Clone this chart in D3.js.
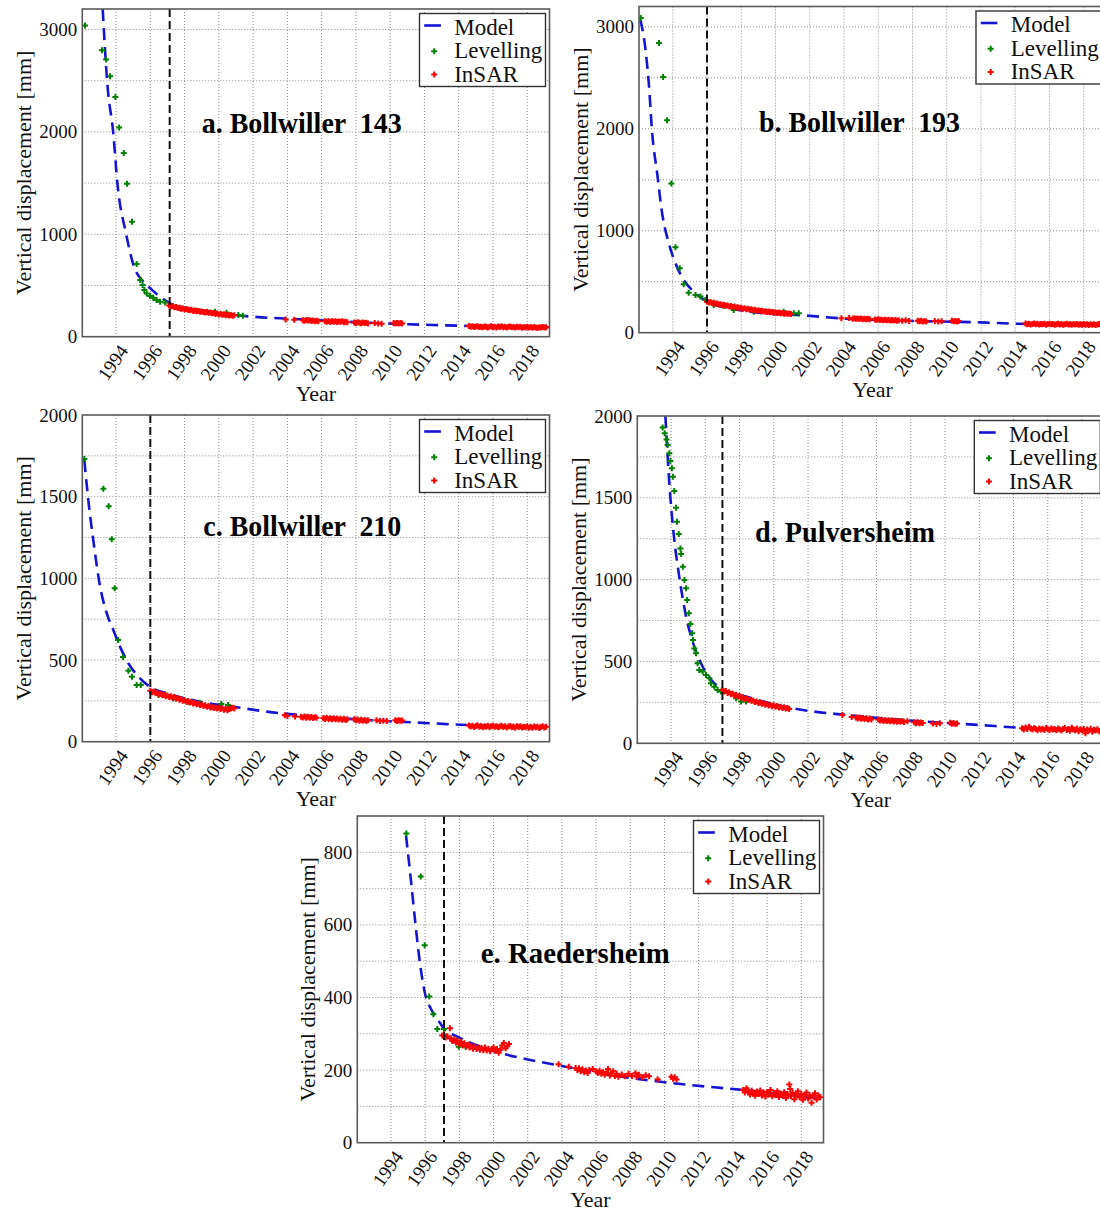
<!DOCTYPE html>
<html><head><meta charset="utf-8">
<script src="https://cdn.jsdelivr.net/npm/d3@7"></script>
<style>body{margin:0;background:#fff}svg{display:block}text{font-family:"Liberation Serif","Times New Roman",serif}</style>
</head><body><svg id="chart" width="1100" height="1211"></svg>
<script>
// ---------- tick labels ----------
const xTickYears = [1994,1996,1998,2000,2002,2004,2006,2008,2010,2012,2014,2016,2018];
const xDomain = [1992.03, 2019.3];
const yTicksAB = [0,1000,2000,3000];
const yTicksCD = [0,500,1000,1500,2000];
const yTicksE = [0,200,400,600,800];
const legendLabels = ["Model","Levelling","InSAR"];
const titles = ["a. Bollwiller  143","b. Bollwiller  193","c. Bollwiller  210","d. Pulversheim","e. Raedersheim"];
const vlineYears = [1997.13, 1996.0, 1996.0, 1997.0, 1997.1];

// ---------- model curves [year, mm] ----------
const modelA = [[1993.22,3200],[1993.49,2472],[1993.84,1984],[1994.08,1497],[1994.58,1009],[1995.05,683],[1995.6,537],[1996.07,462],[1996.57,390],[1997.15,326],[1998.9,260],[2000.85,212],[2002.0,195],[2004.75,170],[2008.65,137],[2012.5,114],[2014.9,104],[2019.25,92]];
const modelB = [[1992.11,3071],[1992.41,2777],[1992.6,2449],[1992.8,1958],[1993.09,1565],[1993.38,1172],[1993.77,878],[1994.16,681],[1994.64,517],[1995.23,403],[1996.0,305],[1997.37,239],[1999.31,190],[2001.26,174],[2003.79,141],[2008.07,115],[2011.97,101],[2014.11,88],[2019.2,75]];
const modelC = [[1992.15,1724],[1992.38,1480],[1992.67,1235],[1993.07,949],[1993.46,786],[1993.84,684],[1994.23,582],[1994.72,480],[1995.4,388],[1996.03,333],[1996.96,296],[1998.9,245],[2000.85,214],[2002.8,184],[2004.74,163],[2008.64,133],[2012.53,112],[2014.48,102],[2019.2,88]];
const modelD = [[1993.67,2000],[1993.9,1589],[1994.15,1283],[1994.48,1018],[1994.88,774],[1995.36,591],[1995.85,468],[1996.43,377],[1997.01,330],[1998.38,285],[2001.1,214],[2004.22,173],[2008.11,138],[2012.0,112],[2014.53,94],[2019.2,81]];
const modelE = [[1994.88,846],[1995.15,731],[1995.41,612],[1995.7,493],[1995.99,411],[1996.38,365],[1996.77,337],[1997.1,314],[1997.85,293],[1999.8,255],[2001.75,232],[2003.7,214],[2007.6,181],[2011.52,159],[2014.64,145],[2019.2,122]];

// ---------- levelling [year, mm] ----------
const levA = [[1992.19,3040],[1993.18,2797],[1993.42,2706],[1993.65,2543],[1993.96,2341],[1994.18,2043],[1994.45,1795],[1994.64,1493],[1994.93,1122],[1995.2,709],[1995.41,553],[1995.55,504],[1995.65,456],[1995.79,423],[1995.98,397],[1996.17,380],[1996.37,358],[1996.57,341],[1996.86,335],[1997.74,277],[1998.7,254],[1999.3,244],[1999.77,244],[2000.45,234],[2001.14,212],[2001.4,205]];
const levB = [[1992.13,3088],[1993.2,2842],[1993.44,2508],[1993.67,2083],[1993.92,1464],[1994.16,838],[1994.41,632],[1994.64,475],[1994.93,393],[1995.33,370],[1995.62,354],[1995.91,321],[1996.39,272],[1996.98,262],[1997.56,223],[1998.73,206],[1999.9,196],[2000.48,206],[2001.07,190],[2001.36,190]];
const levC = [[1992.15,1731],[1993.26,1549],[1993.57,1441],[1993.75,1239],[1993.92,939],[1994.12,622],[1994.41,518],[1994.72,435],[1994.93,398],[1995.2,347],[1995.44,347],[1996.47,286],[1997.35,265],[1998.2,245],[1998.88,239],[2000.15,231],[2000.54,224]];
const levD = [[1993.51,1929],[1993.63,1894],[1993.74,1857],[1993.8,1823],[1993.9,1772],[1993.96,1725],[1994.05,1680],[1994.11,1629],[1994.19,1542],[1994.29,1440],[1994.35,1354],[1994.45,1279],[1994.55,1191],[1994.59,1157],[1994.69,1079],[1994.78,998],[1994.88,947],[1994.94,876],[1995.04,794],[1995.13,729],[1995.23,672],[1995.28,631],[1995.36,580],[1995.46,550],[1995.55,489],[1995.65,448],[1995.85,438],[1996.04,418],[1996.24,397],[1996.33,367],[1996.53,346],[1996.72,326],[1996.92,316],[1997.8,275],[1998.09,255],[1998.38,255]];
const levE = [[1994.9,852],[1995.74,733],[1995.97,544],[1996.24,403],[1996.48,354],[1996.71,313],[1997.1,313],[1997.58,282],[1997.97,264],[1998.36,264]];

// ---------- InSAR [year, mm] ----------
const insarA = [[1997.1,305],[1997.2,296],[1997.3,300],[1997.4,288],[1997.5,291],[1997.6,280],[1997.7,283],[1997.8,272],[1997.9,276],[1998.0,265],[1998.1,270],[1998.2,262],[1998.3,258],[1998.4,262],[1998.5,252],[1998.6,256],[1998.7,248],[1998.8,250],[1998.9,244],[1999.0,247],[1999.1,240],[1999.2,236],[1999.3,241],[1999.4,233],[1999.5,236],[1999.6,228],[1999.7,231],[1999.8,222],[1999.9,226],[2000.0,218],[2000.1,224],[2000.2,214],[2000.3,219],[2000.4,210],[2000.5,215],[2000.6,208],[2000.7,212],[2000.8,205],[2000.9,209],
[2003.9,168],[2004.4,165],[2004.9,160],[2005.0,155],[2005.1,162],[2005.2,157],[2005.3,160],[2005.4,153],[2005.5,158],[2005.6,151],[2005.7,156],[2005.8,152],[2006.2,150],[2006.3,146],[2006.4,153],[2006.5,144],[2006.6,150],[2006.7,147],[2006.8,152],[2006.9,143],[2007.0,148],[2007.1,145],[2007.2,150],[2007.3,141],[2007.4,146],[2007.5,140],[2007.9,139],[2008.0,134],[2008.1,141],[2008.2,136],[2008.3,131],[2008.4,138],[2008.5,133],[2008.6,136],[2008.7,130],[2009.1,133],[2009.3,128],[2009.5,126],[2010.2,133],[2010.3,128],[2010.4,135],[2010.5,130],[2010.6,134],[2010.7,129],
[2014.6,104],[2014.7,97],[2014.8,101],[2014.9,94],[2015.0,99],[2015.1,103],[2015.2,95],[2015.3,98],[2015.4,92],[2015.5,100],[2015.6,96],[2015.7,90],[2015.8,97],[2015.9,101],[2016.0,94],[2016.1,98],[2016.2,91],[2016.3,99],[2016.4,95],[2016.5,102],[2016.6,93],[2016.7,97],[2016.8,90],[2016.9,96],[2017.0,99],[2017.1,92],[2017.2,95],[2017.3,89],[2017.4,98],[2017.5,93],[2017.6,96],[2017.7,88],[2017.8,94],[2017.9,91],[2018.0,97],[2018.1,90],[2018.2,94],[2018.3,87],[2018.4,95],[2018.5,91],[2018.6,86],[2018.7,93],[2018.8,89],[2018.9,95],[2019.0,90],[2019.1,93]];
const insarB = [[1996.0,305],[1996.1,296],[1996.2,300],[1996.3,290],[1996.4,293],[1996.5,283],[1996.6,287],[1996.7,276],[1996.8,280],[1996.9,270],[1997.0,274],[1997.1,265],[1997.2,268],[1997.3,258],[1997.4,262],[1997.5,252],[1997.6,256],[1997.7,246],[1997.8,249],[1997.9,240],[1998.0,244],[1998.1,236],[1998.2,239],[1998.3,230],[1998.4,234],[1998.5,226],[1998.6,229],[1998.7,220],[1998.8,224],[1998.9,216],[1999.0,220],[1999.1,212],[1999.2,215],[1999.3,208],[1999.4,211],[1999.5,204],[1999.6,207],[1999.7,200],[1999.8,204],[1999.9,197],[2000.0,201],[2000.1,193],[2000.2,197],[2000.3,190],[2000.4,194],[2000.5,187],[2000.6,191],[2000.7,185],[2000.8,189],[2000.9,184],
[2003.85,141],[2004.3,144],[2004.5,138],[2004.6,142],[2004.7,136],[2004.8,140],[2004.9,134],[2005.0,139],[2005.1,133],[2005.2,137],[2005.3,131],[2005.4,136],[2005.5,132],[2005.8,129],[2005.9,125],[2006.0,131],[2006.1,124],[2006.2,128],[2006.3,122],[2006.4,127],[2006.5,121],[2006.6,126],[2006.7,120],[2006.8,125],[2006.9,119],[2007.0,124],[2007.1,118],[2007.2,123],[2007.4,117],[2007.6,121],[2007.8,116],[2008.3,118],[2008.4,112],[2008.5,117],[2008.6,111],[2008.7,115],[2008.8,110],[2009.3,114],[2009.5,110],[2009.7,112],[2010.3,117],[2010.4,112],[2010.5,116],[2010.6,111],[2010.7,114],
[2014.6,90],[2014.7,84],[2014.8,88],[2014.9,81],[2015.0,86],[2015.1,90],[2015.2,83],[2015.3,87],[2015.4,80],[2015.5,86],[2015.6,82],[2015.7,88],[2015.8,79],[2015.9,85],[2016.0,89],[2016.1,82],[2016.2,86],[2016.3,79],[2016.4,84],[2016.5,88],[2016.6,81],[2016.7,85],[2016.8,78],[2016.9,84],[2017.0,87],[2017.1,80],[2017.2,84],[2017.3,77],[2017.4,85],[2017.5,81],[2017.6,86],[2017.7,78],[2017.8,83],[2017.9,79],[2018.0,85],[2018.1,77],[2018.2,82],[2018.3,76],[2018.4,84],[2018.5,79],[2018.6,83],[2018.7,76],[2018.8,81],[2018.9,85],[2019.0,78],[2019.1,82]];
const insarC = [[1996.0,312],[1996.1,303],[1996.2,307],[1996.3,296],[1996.4,300],[1996.5,290],[1996.6,294],[1996.7,284],[1996.8,288],[1996.9,279],[1997.0,283],[1997.1,274],[1997.2,278],[1997.3,269],[1997.4,273],[1997.5,263],[1997.6,267],[1997.7,257],[1997.8,261],[1997.9,251],[1998.0,255],[1998.1,245],[1998.2,249],[1998.3,240],[1998.4,244],[1998.5,234],[1998.6,238],[1998.7,229],[1998.8,233],[1998.9,224],[1999.0,228],[1999.1,219],[1999.2,223],[1999.3,214],[1999.4,218],[1999.5,210],[1999.6,214],[1999.7,206],[1999.8,210],[1999.9,203],[2000.0,208],[2000.1,200],[2000.2,205],[2000.3,196],[2000.4,201],[2000.5,192],[2000.6,198],[2000.7,203],[2000.8,208],[2000.9,204],
[2003.85,162],[2004.0,158],[2004.45,155],[2004.8,153],[2004.9,148],[2005.0,154],[2005.1,147],[2005.2,152],[2005.3,146],[2005.4,151],[2005.5,145],[2005.6,150],[2005.7,146],[2006.1,145],[2006.2,139],[2006.3,146],[2006.4,138],[2006.5,144],[2006.6,137],[2006.7,143],[2006.8,138],[2006.9,142],[2007.0,136],[2007.1,141],[2007.2,135],[2007.3,140],[2007.4,133],[2007.5,138],[2007.9,137],[2008.0,131],[2008.1,136],[2008.2,129],[2008.3,134],[2008.4,128],[2008.5,133],[2008.6,127],[2008.7,132],[2009.2,131],[2009.4,127],[2009.6,129],[2009.8,126],[2010.3,131],[2010.4,127],[2010.5,132],[2010.6,128],[2010.7,130],
[2014.6,99],[2014.7,93],[2014.8,97],[2014.9,90],[2015.0,96],[2015.1,100],[2015.2,92],[2015.3,96],[2015.4,89],[2015.5,95],[2015.6,91],[2015.7,97],[2015.8,88],[2015.9,94],[2016.0,98],[2016.1,91],[2016.2,95],[2016.3,88],[2016.4,93],[2016.5,97],[2016.6,90],[2016.7,94],[2016.8,87],[2016.9,93],[2017.0,96],[2017.1,89],[2017.2,93],[2017.3,86],[2017.4,94],[2017.5,90],[2017.6,95],[2017.7,87],[2017.8,92],[2017.9,88],[2018.0,94],[2018.1,86],[2018.2,91],[2018.3,85],[2018.4,93],[2018.5,88],[2018.6,92],[2018.7,84],[2018.8,90],[2018.9,94],[2019.0,87],[2019.1,91]];
const insarD = [[1997.0,325],[1997.1,316],[1997.2,320],[1997.3,308],[1997.4,312],[1997.5,300],[1997.6,304],[1997.7,292],[1997.8,296],[1997.9,285],[1998.0,289],[1998.1,278],[1998.2,282],[1998.3,271],[1998.4,275],[1998.5,264],[1998.6,268],[1998.7,258],[1998.8,262],[1998.9,252],[1999.0,256],[1999.1,246],[1999.2,250],[1999.3,241],[1999.4,245],[1999.5,236],[1999.6,240],[1999.7,231],[1999.8,235],[1999.9,227],[2000.0,232],[2000.1,223],[2000.2,228],[2000.3,219],[2000.4,224],[2000.5,215],[2000.6,220],[2000.7,212],[2000.8,216],[2000.9,209],
[2004.0,173],[2004.55,160],[2004.8,158],[2004.9,152],[2005.0,157],[2005.1,150],[2005.2,155],[2005.3,148],[2005.4,153],[2005.5,146],[2005.6,151],[2005.7,145],[2006.1,146],[2006.2,139],[2006.3,144],[2006.4,137],[2006.5,143],[2006.6,136],[2006.7,141],[2006.8,134],[2006.9,140],[2007.0,133],[2007.1,138],[2007.2,132],[2007.3,137],[2007.4,131],[2007.5,136],[2007.6,130],[2007.8,134],[2008.2,128],[2008.3,123],[2008.4,129],[2008.5,122],[2008.6,127],[2008.7,124],[2009.3,121],[2009.5,118],[2009.7,122],[2010.3,125],[2010.4,119],[2010.5,124],[2010.6,118],[2010.7,121],
[2014.5,92],[2014.6,85],[2014.7,97],[2014.8,88],[2014.9,101],[2015.0,90],[2015.1,84],[2015.2,93],[2015.3,87],[2015.4,80],[2015.5,91],[2015.6,85],[2015.7,89],[2015.8,82],[2015.9,94],[2016.0,86],[2016.1,80],[2016.2,90],[2016.3,84],[2016.4,88],[2016.5,79],[2016.6,91],[2016.7,85],[2016.8,78],[2016.9,87],[2017.0,93],[2017.1,81],[2017.2,88],[2017.3,76],[2017.4,95],[2017.5,84],[2017.6,79],[2017.7,90],[2017.8,73],[2017.9,86],[2018.0,80],[2018.1,88],[2018.2,62],[2018.3,84],[2018.4,76],[2018.5,89],[2018.6,70],[2018.7,83],[2018.8,78],[2018.9,86],[2019.0,74],[2019.1,82]];
const insarE = [[1997.0,295],[1997.1,298],[1997.2,290],[1997.3,293],[1997.45,315],[1997.5,287],[1997.6,280],[1997.7,285],[1997.8,276],[1997.9,281],[1998.0,272],[1998.1,278],[1998.2,268],[1998.3,274],[1998.4,265],[1998.5,270],[1998.6,262],[1998.7,267],[1998.8,259],[1998.9,264],[1999.0,258],[1999.1,263],[1999.2,256],[1999.3,261],[1999.4,255],[1999.5,262],[1999.6,254],[1999.7,259],[1999.8,252],[1999.9,258],[2000.0,262],[2000.1,253],[2000.2,258],[2000.3,248],[2000.4,256],[2000.5,268],[2000.6,275],[2000.7,260],[2000.8,266],[2000.9,272],
[2003.8,216],[2004.4,209],[2004.8,206],[2004.9,200],[2005.0,205],[2005.1,197],[2005.2,202],[2005.3,194],[2005.4,199],[2005.5,192],[2005.6,200],[2005.8,203],[2006.0,196],[2006.1,192],[2006.2,198],[2006.3,190],[2006.4,195],[2006.5,187],[2006.6,193],[2006.7,203],[2006.8,185],[2006.9,191],[2007.0,197],[2007.1,184],[2007.2,190],[2007.3,182],[2007.5,188],[2007.7,183],[2007.9,190],[2008.1,184],[2008.3,191],[2008.4,182],[2008.5,187],[2008.7,180],[2008.9,186],[2009.1,183],[2009.6,175],[2010.4,182],[2010.5,176],[2010.6,180],[2010.7,174],
[2014.6,145],[2014.7,138],[2014.8,150],[2014.9,140],[2015.0,133],[2015.1,143],[2015.2,136],[2015.3,129],[2015.4,141],[2015.5,134],[2015.6,144],[2015.7,130],[2015.8,138],[2015.9,127],[2016.0,140],[2016.1,133],[2016.2,145],[2016.3,128],[2016.4,137],[2016.5,131],[2016.6,142],[2016.7,126],[2016.8,135],[2016.9,129],[2017.0,139],[2017.1,123],[2017.2,134],[2017.3,160],[2017.35,148],[2017.4,128],[2017.5,137],[2017.6,120],[2017.7,132],[2017.8,142],[2017.9,125],[2018.0,134],[2018.1,118],[2018.2,129],[2018.3,138],[2018.4,122],[2018.5,131],[2018.6,110],[2018.7,127],[2018.8,136],[2018.9,119],[2019.0,130],[2019.1,125]];

// ---------- layout ----------
const panels = [
  {box:[82.3,9,549.5,336.7], ymax:3200, ticks:yTicksAB, grid:500, model:modelA, lev:levA, insar:insarA, title:titles[0], vline:vlineYears[0], tdx:119.4, tdy:124.3, tlen:200},
  {box:[639,6.5,1106,332.7], ymax:3200, ticks:yTicksAB, grid:500, model:modelB, lev:levB, insar:insarB, title:titles[1], vline:vlineYears[1], tdx:120, tdy:125.5, tlen:201},
  {box:[82.3,415,549.5,741.7], ymax:2000, ticks:yTicksCD, grid:250, model:modelC, lev:levC, insar:insarC, title:titles[2], vline:vlineYears[2], tdx:121, tdy:121, tlen:198},
  {box:[637.3,416,1104.3,743.3], ymax:2000, ticks:yTicksCD, grid:250, model:modelD, lev:levD, insar:insarD, title:titles[3], vline:vlineYears[3], tdx:117.7, tdy:125.7, tlen:180},
  {box:[357.3,816,823.5,1142.7], ymax:900, ticks:yTicksE, grid:100, model:modelE, lev:levE, insar:insarE, title:titles[4], vline:vlineYears[4], tdx:123.4, tdy:146.7, tlen:189}
];

const svg = d3.select("#chart");
svg.append("rect").attr("width",1100).attr("height",1211).attr("fill","#fff");
const BLUE="#1414d2", GREEN="#008000", RED="#ff0000";
const sym = d3.symbol().type(d3.symbolCross).size(20);

panels.forEach((p,i)=>{
  const [L,T,R,B] = p.box;
  const x = d3.scaleLinear().domain(xDomain).range([L,R]);
  const y = d3.scaleLinear().domain([0,p.ymax]).range([B,T]);
  const g = svg.append("g");
  const cid = "clip"+i;
  svg.append("clipPath").attr("id",cid).append("rect").attr("x",L).attr("y",T).attr("width",R-L).attr("height",B-T);

  // grid
  const gridG = g.append("g").attr("stroke","#8a8a8a").attr("stroke-width",1).attr("stroke-dasharray","1,2");
  xTickYears.forEach(t=>gridG.append("line").attr("x1",x(t)).attr("x2",x(t)).attr("y1",T).attr("y2",B));
  d3.range(p.grid, p.ymax, p.grid).forEach(v=>gridG.append("line").attr("x1",L).attr("x2",R).attr("y1",y(v)).attr("y2",y(v)));

  // y tick labels via axis
  const yAxis = d3.axisLeft(y).tickValues(p.ticks).tickSize(0).tickPadding(5).tickFormat(d3.format("d"));
  const ya = g.append("g").attr("transform",`translate(${L},0)`).call(yAxis);
  ya.select(".domain").remove();
  ya.selectAll("text").attr("font-size",19).attr("fill","#111").attr("font-family","Liberation Serif");

  // x tick labels via axis
  const xAxis = d3.axisBottom(x).tickValues(xTickYears).tickSize(0).tickFormat(d3.format("d"));
  const xa = g.append("g").attr("transform",`translate(0,${B})`).call(xAxis);
  xa.select(".domain").remove();
  xa.selectAll("text").attr("font-size",19).attr("fill","#111").attr("font-family","Liberation Serif")
    .attr("text-anchor","end").attr("dy",null).attr("y",null)
    .attr("transform","translate(12.5,14) rotate(-55)");

  // axis titles
  const maxDigits = d3.max(p.ticks, t=>String(t).length);
  g.append("text").attr("transform",`translate(${L-5-maxDigits*9.5-8.5},${(T+B)/2}) rotate(-90)`)
    .attr("text-anchor","middle").attr("font-size",22).attr("fill","#111").text("Vertical displacement [mm]");
  g.append("text").attr("x",(L+R)/2).attr("y",B+64).attr("text-anchor","middle").attr("font-size",22).attr("fill","#111").text("Year");

  const plot = g.append("g").attr("clip-path",`url(#${cid})`);
  // model
  plot.append("path").datum(p.model)
    .attr("d", d3.line().x(d=>x(d[0])).y(d=>y(d[1])).curve(d3.curveMonotoneX))
    .attr("fill","none").attr("stroke",BLUE).attr("stroke-width",2.6).attr("stroke-dasharray","12,7");
  // levelling
  plot.append("g").selectAll("path").data(p.lev).join("path")
    .attr("d",sym).attr("transform",d=>`translate(${x(d[0])},${y(d[1])})`).attr("fill",GREEN);
  // insar
  plot.append("g").selectAll("path").data(p.insar).join("path")
    .attr("d",sym).attr("transform",d=>`translate(${x(d[0])},${y(d[1])})`).attr("fill",RED);
  // vertical dashed line
  plot.append("line").attr("x1",x(p.vline)).attr("x2",x(p.vline)).attr("y1",T).attr("y2",B)
    .attr("stroke","#111").attr("stroke-width",2).attr("stroke-dasharray","8,4");

  // title
  g.append("text").attr("x",L+p.tdx).attr("y",T+p.tdy).attr("font-size",29).attr("font-weight","bold")
    .attr("fill","#000").attr("textLength",p.tlen).attr("lengthAdjust","spacingAndGlyphs").attr("xml:space","preserve").text(p.title);

  // frame
  g.append("rect").attr("x",L).attr("y",T).attr("width",R-L).attr("height",B-T)
    .attr("fill","none").attr("stroke","#5a5a5a").attr("stroke-width",1.6);

  // legend
  const lx = R-130, ly = T+4.5;
  const lg = g.append("g");
  lg.append("rect").attr("x",lx).attr("y",ly).attr("width",126).attr("height",73)
    .attr("fill","#fff").attr("stroke","#333").attr("stroke-width",1.4);
  const base = [21, 44.7, 68.4];
  lg.append("line").attr("x1",lx+4.7).attr("x2",lx+21.4).attr("y1",ly+base[0]-9).attr("y2",ly+base[0]-9)
    .attr("stroke",BLUE).attr("stroke-width",2.6);
  lg.append("path").attr("d",sym).attr("transform",`translate(${lx+14.7},${ly+base[1]-7})`).attr("fill",GREEN);
  lg.append("path").attr("d",sym).attr("transform",`translate(${lx+14.7},${ly+base[2]-7.5})`).attr("fill",RED);
  legendLabels.forEach((t,k)=>lg.append("text").attr("x",lx+34.7).attr("y",ly+base[k]).attr("font-size",23).attr("fill","#111").text(t));
});
</script></body></html>
